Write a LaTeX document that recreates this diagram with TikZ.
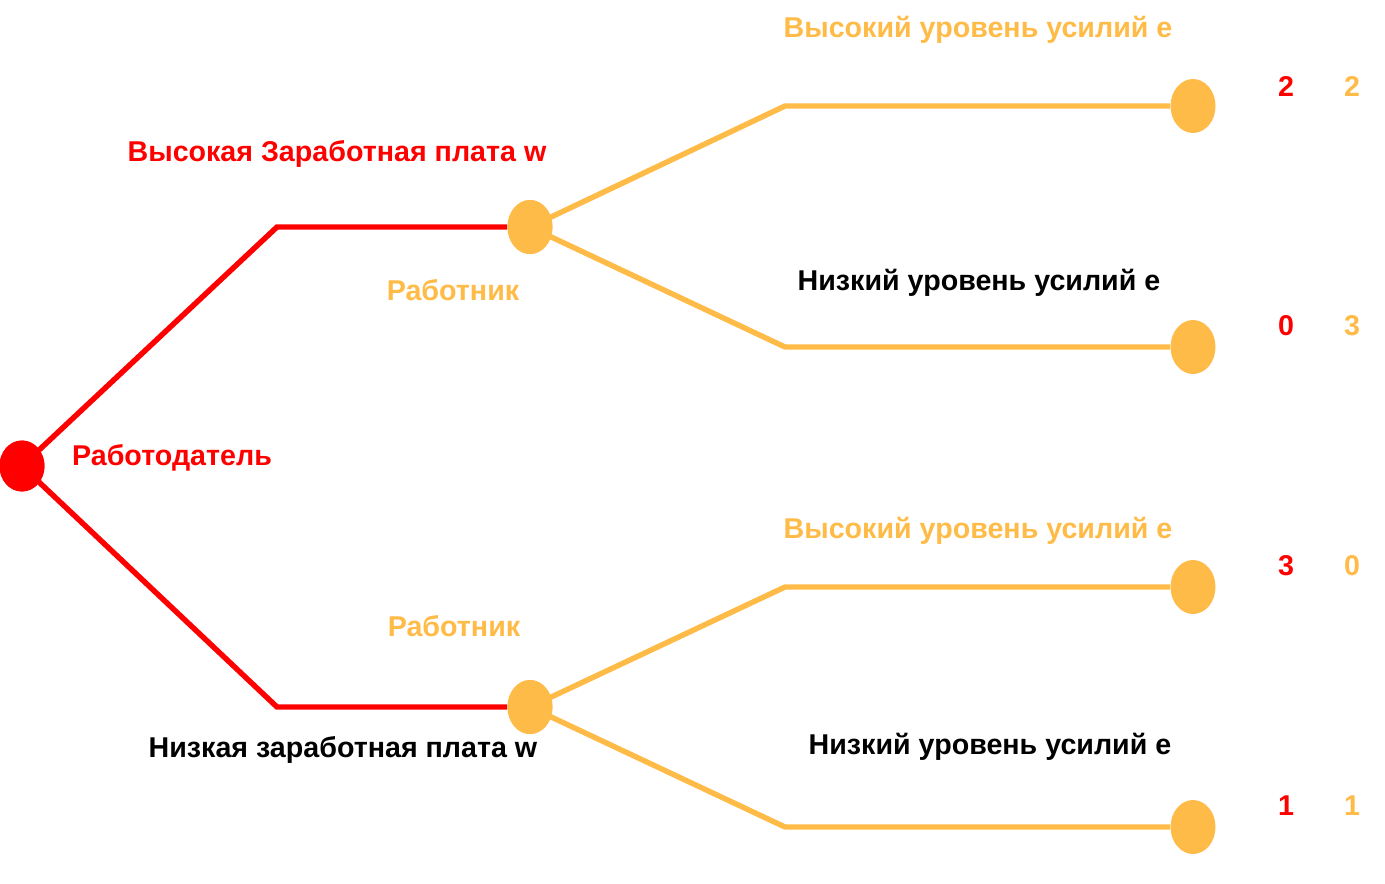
\documentclass[tikz,border=0pt]{standalone}
\usepackage{fontspec}
\setmainfont{Liberation Sans}
\usepackage{tikz}
\usetikzlibrary{shapes.geometric}

\definecolor{treered}{RGB}{255,0,0}
\definecolor{treeorange}{RGB}{255,187,71}

\begin{document}
\begin{tikzpicture}[x=0.02cm, y=-0.02cm,
    redline/.style={treered, line width=3.1pt},
    orangeline/.style={treeorange, line width=3.1pt},
    dot/.style={ellipse, minimum width=0.9cm, minimum height=1.08cm, inner sep=0pt},
    lbl/.style={font=\fontsize{16.3}{19}\selectfont\bfseries, inner sep=0pt}]
    \useasboundingbox (0,0) rectangle (1385,883);
    \node[dot, fill=treered, minimum width=0.9cm, minimum height=1.02cm] (root) at (22,466) {};
    \node[dot, fill=treeorange] (wa) at (530,227) {};
    \node[dot, fill=treeorange] (wb) at (530,707) {};
    \foreach \i/\y in {1/106, 2/347, 3/587, 4/827}{
      \node[dot, fill=treeorange] (t\i) at (1193,\y) {};
    }
    \coordinate (ka) at (277,227);
    \coordinate (kb) at (277,707);
    \coordinate (k1) at (785,106);
    \coordinate (k2) at (785,347);
    \coordinate (k3) at (785,587);
    \coordinate (k4) at (785,827);
    \draw[redline] (root.center) -- (ka) -- (wa);
    \draw[redline] (root.center) -- (kb) -- (wb);
    \draw[orangeline] (wa.center) -- (k1) -- (t1);
    \draw[orangeline] (wa.center) -- (k2) -- (t2);
    \draw[orangeline] (wb.center) -- (k3) -- (t3);
    \draw[orangeline] (wb.center) -- (k4) -- (t4);
    \node[dot, fill=treeorange] at (wa) {};
    \node[dot, fill=treeorange] at (wb) {};
    \node[dot, fill=treered, minimum width=0.9cm, minimum height=1.02cm] at (root) {};
    % labels
    \node[lbl, treered] (boss) at (172,458) {Работодатель};
    \node[lbl, treered] (hiw) at (337,154) {Высокая Заработная плата w};
    \node[lbl] (low) at (343,750) {Низкая заработная плата w};
    \node[lbl, treeorange] (wla) at (453,290) {Работник};
    \node[lbl, treeorange] (wlb) at (454,626) {Работник};
    \node[lbl, treeorange] (he1) at (978,30) {Высокий уровень усилий e};
    \node[lbl] (le1) at (979,283) {Низкий уровень усилий e};
    \node[lbl, treeorange] (he2) at (978,531) {Высокий уровень усилий e};
    \node[lbl] (le2) at (990,747) {Низкий уровень усилий e};
    % payoffs
    \foreach \i/\y/\a/\b in {1/86/2/2, 2/326/0/3, 3/566/3/0, 4/806/1/1}{
      \node[lbl, treered] (pa\i) at (1286,\y) {\a};
      \node[lbl, treeorange] (pb\i) at (1352,\y) {\b};
    }
\end{tikzpicture}
\end{document}
